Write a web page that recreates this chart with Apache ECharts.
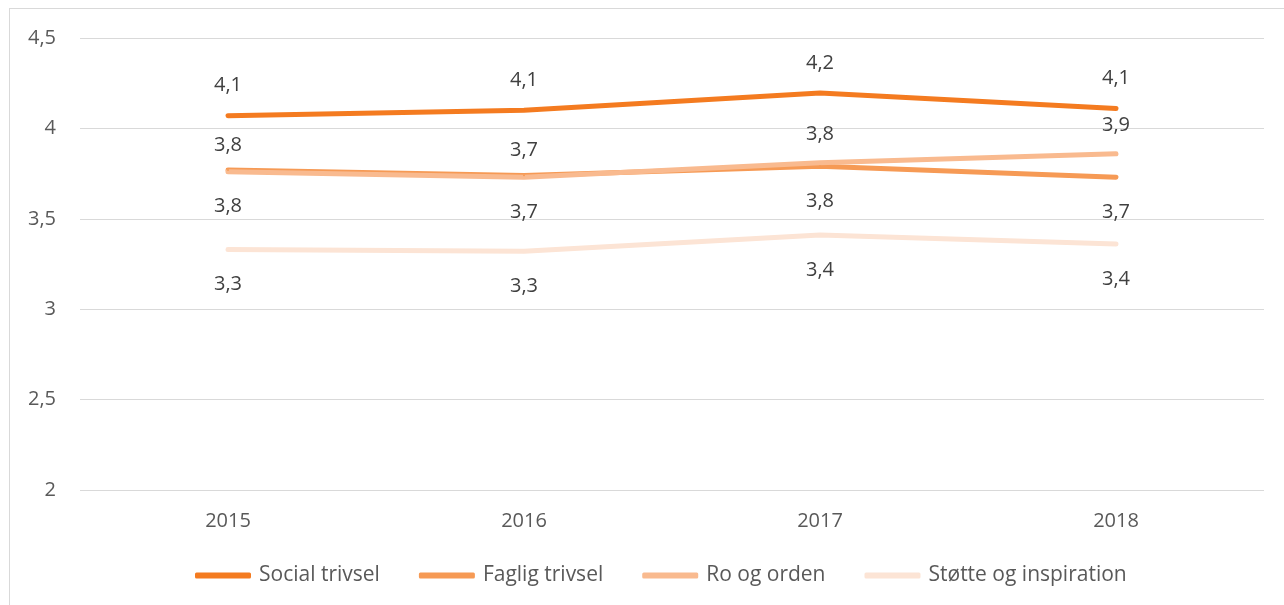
<!DOCTYPE html>
<html>
<head>
<meta charset="utf-8">
<script src="https://cdn.jsdelivr.net/npm/echarts@6/dist/echarts.min.js"></script>
<style>
html,body{margin:0;padding:0;background:#fff;overflow:hidden;}
#frame{position:absolute;left:9px;top:8px;width:1300px;height:620px;border:1px solid #d9d9d9;box-sizing:border-box;}
#chart{position:absolute;left:0;top:0;width:1284px;height:605px;}
</style>
</head>
<body>
<div id="frame"></div>
<div id="chart"></div>
<script>
const categories = ['2015', '2016', '2017', '2018'];
const seriesNames = ['Social trivsel', 'Faglig trivsel', 'Ro og orden', 'Støtte og inspiration'];
const socialTrivsel = [4.07, 4.10, 4.196, 4.11];
const fagligTrivsel = [3.77, 3.74, 3.79, 3.73];
const roOgOrden = [3.76, 3.73, 3.81, 3.86];
const stotteOgInspiration = [3.33, 3.32, 3.41, 3.36];
const yTicks = [2, 2.5, 3, 3.5, 4, 4.5];

const colors = ['#F47B20', '#F69A55', '#F9BA8F', '#FCE4D5'];
const labelPlacement = [
  ['top', 'top', 'top', 'top'],
  ['top', 'top', 'bottom', 'bottom'],
  ['bottom', 'bottom', 'top', 'top'],
  ['bottom', 'bottom', 'bottom', 'bottom']
];
const topDistance = [19, 14, 17, 19];
const bottomDistance = 24;
const values = [socialTrivsel, fagligTrivsel, roOgOrden, stotteOgInspiration];
const fmt = v => v.toFixed(1).replace('.', ',');
const fontFamily = '"Open Sans", "Noto Sans", sans-serif';
const fs = 20;

const chart = echarts.init(document.getElementById('chart'));
chart.setOption({
  animation: false,
  color: colors,
  grid: {left: 80, right: 20, top: 38, bottom: 115},
  legend: {
    bottom: 14,
    left: 190,
    itemWidth: 56,
    itemHeight: 6,
    itemGap: 39,
    icon: 'roundRect',
    textStyle: {fontFamily, fontSize: 21, color: '#595959', padding: [0, 0, 0, 3]},
    data: seriesNames
  },
  xAxis: {
    type: 'category',
    data: categories,
    boundaryGap: true,
    axisLine: {show: false},
    axisTick: {show: false},
    axisLabel: {fontFamily, fontSize: fs, color: '#595959', margin: 21}
  },
  yAxis: {
    type: 'value',
    min: yTicks[0],
    max: yTicks[yTicks.length - 1],
    interval: 0.5,
    axisLine: {show: false},
    axisTick: {show: false},
    splitLine: {lineStyle: {color: '#d9d9d9', width: 1}},
    axisLabel: {fontFamily, fontSize: fs, color: '#595959', margin: 24, formatter: v => fmt(v).replace(',0', '')}
  },
  series: seriesNames.map((name, i) => ({
    name,
    type: 'line',
    symbol: 'circle',
    symbolSize: 2,
    showSymbol: true,
    lineStyle: {width: 5, cap: 'round', join: 'round', color: colors[i]},
    itemStyle: {color: colors[i]},
    data: values[i].map((v, j) => ({
      value: v,
      label: {
        show: true,
        position: labelPlacement[i][j],
        distance: labelPlacement[i][j] === 'top' ? topDistance[i] : bottomDistance
      }
    })),
    label: {
      show: true,
      fontFamily,
      fontSize: fs,
      color: '#404040',
      formatter: p => fmt(p.value)
    },
    labelLayout: {hideOverlap: false}
  }))
});
</script>
</body>
</html>
